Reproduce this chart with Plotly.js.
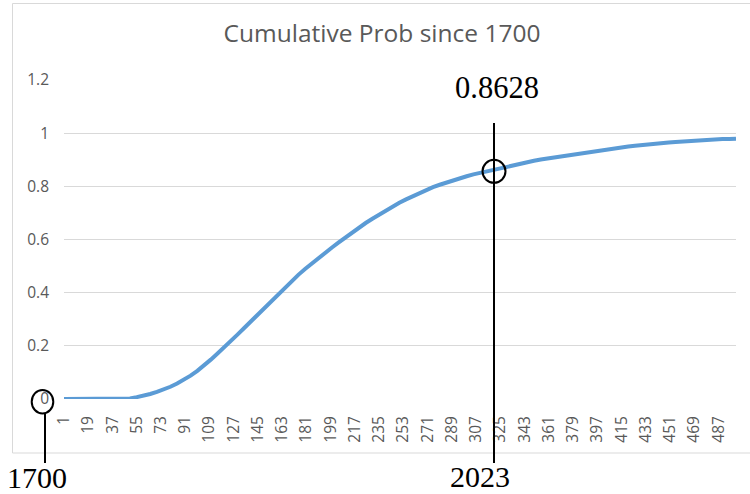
<!DOCTYPE html>
<html>
<head>
<meta charset="utf-8">
<script src="https://cdn.plot.ly/plotly-3.0.1.min.js"></script>
<style>html,body{margin:0;padding:0;background:#fff;}#chart{width:750px;height:494px;}</style>
</head>
<body>
<div id="chart"></div>
<script>
// Category index (1 = year 1700), sampled every 5 categories
var categories = [1,5,10,15,20,25,30,35,40,45,50,55,60,65,70,75,80,85,90,95,
  100,105,110,115,120,125,130,135,140,145,150,155,160,165,170,175,180,185,190,195,
  200,205,210,215,220,225,230,235,240,245,250,255,260,265,270,275,280,285,290,295,
  300,305,310,315,320,325,330,335,340,345,350,355,360,365,370,375,380,385,390,395,
  400,405,410,415,420,425,430,435,440,445,450,455,460,465,470,475,480,485,490,495,500];
// Cumulative probability
var cumProb = [0,0,0,0,0,0,0,0,0,0,0.002,0.007,0.012,0.019,0.027,0.036,0.046,0.058,0.072,0.088,
  0.106,0.126,0.148,0.171,0.194,0.218,0.243,0.268,0.293,0.319,0.345,0.37,0.395,0.42,0.444,0.467,0.489,0.51,0.53,0.55,
  0.57,0.589,0.608,0.627,0.645,0.662,0.678,0.694,0.709,0.724,0.738,0.751,0.763,0.775,0.786,0.797,0.806,0.815,0.823,0.831,
  0.838,0.845,0.851,0.857,0.863,0.869,0.875,0.881,0.886,0.891,0.896,0.901,0.905,0.909,0.913,0.917,0.921,0.925,0.929,0.933,
  0.937,0.940,0.944,0.947,0.950,0.953,0.956,0.959,0.961,0.963,0.965,0.967,0.969,0.971,0.973,0.975,0.976,0.977,0.978,0.978,0.979];
var xTickVals = [1,19,37,55,73,91,109,127,145,163,181,199,217,235,253,271,289,307,325,343,361,379,397,415,433,451,469,487];
var xTickText = xTickVals.map(String);
var yTickVals = [0,0.2,0.4,0.6,0.8,1,1.2];
var yTickText = ['0','0.2','0.4','0.6','0.8','1','1.2'];
var titleText = 'Cumulative Prob since 1700';
var markValueText = '0.8628';
var startYearText = '1700';
var markYearText = '2023';

// layout geometry helpers (pixel -> paper)
var W = 750, H = 494, L = 64, R = 14, T = 80, B = 95;
var PW = W - L - R, PH = H - T - B;
function px(x){ return (x - L) / PW; }
function py(y){ return (H - B - y) / PH; }

var grey = '#595959';
var serif = {family: 'Liberation Serif, Times New Roman, serif', size: 30, color: '#000'};

var trace = {
  x: categories, y: cumProb, type: 'scatter', mode: 'lines',
  line: {color: '#5b9bd5', width: 4}, hoverinfo: 'x+y'
};

var layout = {
  width: W, height: H,
  margin: {l: L, r: R, t: T, b: B, pad: 0},
  paper_bgcolor: '#fff', plot_bgcolor: '#fff',
  showlegend: false,
  title: {text: titleText, font: {family: 'Open Sans, sans-serif', size: 24.5, color: grey},
          xref: 'container', yref: 'container', x: 382/750, y: 1 - 33.5/494, xanchor: 'center', yanchor: 'middle'},
  xaxis: {range: [1, 500], tickvals: xTickVals, ticktext: xTickText, tickangle: -90,
          showgrid: false, zeroline: false, showline: false, ticks: '',
          ticklabelstandoff: 13,
          tickfont: {family: 'Open Sans, sans-serif', size: 15.5, color: grey}, automargin: false},
  yaxis: {range: [0, 1.2], tickvals: yTickVals, ticktext: yTickText,
          showgrid: true, gridcolor: '#d9d9d9', gridwidth: 1, zeroline: false, showline: false, ticks: '',
          ticklabelstandoff: 14,
          tickfont: {family: 'Open Sans, sans-serif', size: 15.5, color: grey}, automargin: false},
  shapes: [
    {type: 'rect', xref: 'paper', yref: 'paper', x0: px(12.5), x1: px(760), y0: py(453), y1: py(3.5),
     line: {color: '#d9d9d9', width: 1}, layer: 'below'},
    {type: 'line', xref: 'paper', yref: 'paper', x0: px(494), x1: px(494), y0: py(463), y1: py(123),
     line: {color: '#000', width: 2}},
    {type: 'circle', xref: 'paper', yref: 'paper', x0: px(482.5), x1: px(505.5), y0: py(182.8), y1: py(159.8),
     line: {color: '#000', width: 2}},
    {type: 'line', xref: 'paper', yref: 'paper', x0: px(45), x1: px(45), y0: py(463), y1: py(413.5),
     line: {color: '#000', width: 2}},
    {type: 'circle', xref: 'paper', yref: 'paper', x0: px(31.7), x1: px(53.3), y0: py(413.4), y1: py(390),
     line: {color: '#000', width: 2}}
  ],
  annotations: [
    {text: markValueText, xref: 'paper', yref: 'paper', x: px(497), y: py(88.5), xanchor: 'center', yanchor: 'middle', showarrow: false, font: {family: serif.family, size: 30.5, color: '#000'}},
    {text: markYearText, xref: 'paper', yref: 'paper', x: px(479.5), y: py(476), xanchor: 'center', yanchor: 'middle', showarrow: false, font: serif},
    {text: startYearText, xref: 'paper', yref: 'paper', x: px(37), y: py(477), xanchor: 'center', yanchor: 'middle', showarrow: false, font: serif}
  ]
};

Plotly.newPlot('chart', [trace], layout, {displayModeBar: false, staticPlot: true});
</script>
</body>
</html>
